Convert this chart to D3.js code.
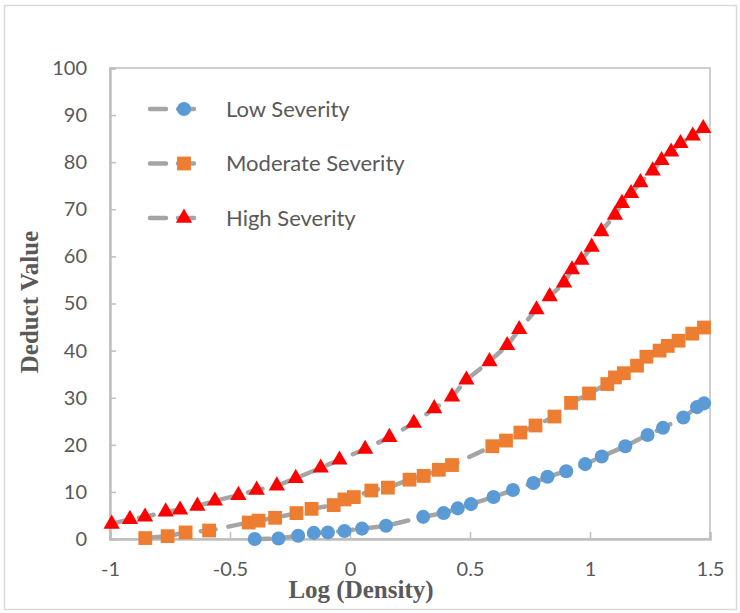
<!DOCTYPE html>
<html>
<head>
<meta charset="utf-8">
<script src="https://cdn.jsdelivr.net/npm/d3@7"></script>
<style>
  body { margin: 0; background: #fff; }
  svg { display: block; }
</style>
</head>
<body>
<svg width="740" height="613"></svg>
<script>
// series: [log density, deduct value]
var lowSeverity = [
    [-0.397, 0.0], [-0.298, 0.1], [-0.216, 0.7], [-0.151, 1.3], [-0.092, 1.4],
    [-0.023, 1.7], [0.050, 2.2], [0.150, 2.8], [0.305, 4.7], [0.390, 5.5],
    [0.449, 6.5], [0.504, 7.4], [0.598, 8.9], [0.679, 10.4], [0.764, 11.9],
    [0.823, 13.2], [0.901, 14.4], [0.980, 15.9], [1.049, 17.5], [1.147, 19.7],
    [1.240, 22.1], [1.304, 23.6], [1.389, 25.8], [1.446, 28.0], [1.475, 28.8]
];
var moderateSeverity = [
    [-0.853, 0.2], [-0.760, 0.6], [-0.685, 1.4], [-0.587, 1.8], [-0.422, 3.5],
    [-0.381, 3.9], [-0.312, 4.5], [-0.223, 5.5], [-0.160, 6.4], [-0.068, 7.2],
    [-0.023, 8.4], [0.016, 8.9], [0.089, 10.3], [0.158, 10.9], [0.248, 12.6],
    [0.307, 13.4], [0.370, 14.7], [0.425, 15.7], [0.593, 19.7], [0.650, 20.9],
    [0.710, 22.6], [0.773, 24.1], [0.852, 26.0], [0.921, 28.9], [0.996, 30.9],
    [1.072, 32.9], [1.104, 34.3], [1.141, 35.2], [1.196, 36.8], [1.235, 38.7],
    [1.290, 40.0], [1.324, 41.0], [1.369, 42.1], [1.426, 43.6], [1.475, 44.9]
];
var highSeverity = [
    [-0.993, 3.2], [-0.917, 4.2], [-0.854, 4.7], [-0.768, 5.8], [-0.708, 6.2],
    [-0.636, 7.0], [-0.563, 8.1], [-0.465, 9.3], [-0.389, 10.4], [-0.305, 11.3],
    [-0.226, 12.9], [-0.122, 15.1], [-0.044, 16.8], [0.063, 19.1], [0.164, 21.6],
    [0.266, 24.6], [0.351, 27.7], [0.425, 30.2], [0.485, 33.8], [0.581, 37.7],
    [0.655, 41.1], [0.705, 44.5], [0.777, 48.7], [0.832, 51.5], [0.892, 54.4],
    [0.925, 57.2], [0.964, 59.2], [1.007, 62.0], [1.047, 65.3], [1.104, 68.8],
    [1.133, 71.3], [1.171, 73.4], [1.210, 75.7], [1.261, 78.2], [1.298, 80.4],
    [1.338, 82.2], [1.377, 84.0], [1.428, 85.6], [1.472, 87.2]
];

var seriesNames = ["Low Severity", "Moderate Severity", "High Severity"];
var xTicks = [-1, -0.5, 0, 0.5, 1, 1.5];
var yTicks = [0, 10, 20, 30, 40, 50, 60, 70, 80, 90, 100];

var series = [
    { name: seriesNames[0], values: lowSeverity, color: "#5b9bd5", symbol: d3.symbolCircle, size: 155 },
    { name: seriesNames[1], values: moderateSeverity, color: "#ed7d31", symbol: d3.symbolSquare, size: 190 },
    { name: seriesNames[2], values: highSeverity, color: "#ff0000", symbol: d3.symbolTriangle, size: 115 }
];

var svg = d3.select("svg"),
    margin = { top: 68, right: 30, bottom: 74, left: 110 },
    width = +svg.attr("width") - margin.left - margin.right,
    height = +svg.attr("height") - margin.top - margin.bottom;

var textColor = "#595959",
    axisColor = "#bfbfbf",
    lineColor = "#a5a5a5";

// outer chart border
svg.append("rect")
    .attr("x", 4.5).attr("y", 5.5)
    .attr("width", 732).attr("height", 604)
    .attr("fill", "none")
    .attr("stroke", "#d9d9d9")
    .attr("stroke-width", 1.5);

var g = svg.append("g").attr("transform", "translate(" + margin.left + "," + margin.top + ")");

var x = d3.scaleLinear().domain([-1, 1.5]).range([0, width]);
var y = d3.scaleLinear().domain([0, 100]).range([height, 0]);

// plot area frame
g.append("rect")
    .attr("width", width).attr("height", height)
    .attr("fill", "none")
    .attr("stroke", axisColor)
    .attr("stroke-width", 1.5);

var xAxis = g.append("g")
    .attr("transform", "translate(0," + height + ")")
    .call(d3.axisBottom(x).tickValues(xTicks).tickSize(-7).tickPadding(23).tickFormat(d3.format("")));

var yAxis = g.append("g")
    .call(d3.axisLeft(y).tickValues(yTicks).tickSize(-6).tickPadding(23));

[xAxis, yAxis].forEach(function (a) {
    a.select(".domain").attr("stroke", axisColor).attr("stroke-width", 2.5);
    a.selectAll(".tick line").attr("stroke", axisColor).attr("stroke-width", 1.5);
    a.selectAll(".tick text")
        .attr("fill", textColor)
        .style("font-family", "Lato, 'Open Sans', sans-serif")
        .style("font-size", "20px");
});
xAxis.selectAll(".tick text").text(function (d) { return d3.format("")(d).replace("−", "-"); });

var line = d3.line()
    .x(function (d) { return x(d[0]); })
    .y(function (d) { return y(d[1]); });

series.forEach(function (s) {
    g.append("path")
        .datum(s.values)
        .attr("fill", "none")
        .attr("stroke", lineColor)
        .attr("stroke-width", 4.5)
        .attr("stroke-linecap", "round")
        .attr("stroke-dasharray", "15,13")
        .attr("d", line);
});

series.forEach(function (s) {
    g.append("g")
        .selectAll("path")
        .data(s.values)
        .enter().append("path")
        .attr("transform", function (d) { return "translate(" + x(d[0]) + "," + y(d[1]) + ")"; })
        .attr("d", d3.symbol().type(s.symbol).size(s.size))
        .attr("fill", s.color);
});

// legend
var legend = svg.append("g")
    .selectAll("g")
    .data(series)
    .enter().append("g")
    .attr("transform", function (d, i) { return "translate(0," + (109 + i * 54.5) + ")"; });

legend.append("line")
    .attr("x1", 150).attr("x2", 205)
    .attr("stroke", lineColor)
    .attr("stroke-width", 4.5)
    .attr("stroke-linecap", "round")
    .attr("stroke-dasharray", "16,12");

legend.append("path")
    .attr("transform", "translate(184,0)")
    .attr("d", function (d) { return d3.symbol().type(d.symbol).size(d.size)(); })
    .attr("fill", function (d) { return d.color; });

legend.append("text")
    .attr("x", 226)
    .attr("dy", "0.35em")
    .attr("fill", textColor)
    .style("font-family", "Lato, 'Open Sans', sans-serif")
    .style("font-size", "22px")
    .text(function (d) { return d.name; });

// axis titles
svg.append("text")
    .attr("x", 361)
    .attr("y", 598)
    .attr("text-anchor", "middle")
    .attr("fill", textColor)
    .style("font-family", "'Liberation Serif', 'Times New Roman', serif")
    .style("font-weight", "bold")
    .style("font-size", "25px")
    .text("Log (Density)");

svg.append("text")
    .attr("transform", "translate(38,302)rotate(-90)")
    .attr("text-anchor", "middle")
    .attr("fill", textColor)
    .style("font-family", "'Liberation Serif', 'Times New Roman', serif")
    .style("font-weight", "bold")
    .style("font-size", "25px")
    .text("Deduct Value");
</script>
</body>
</html>
